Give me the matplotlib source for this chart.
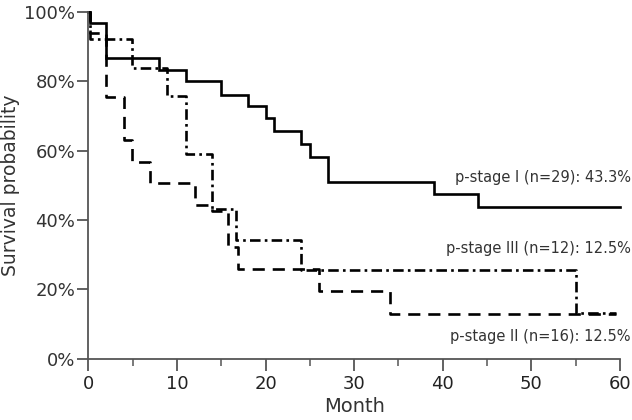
import matplotlib
matplotlib.use("Agg")
import matplotlib.pyplot as plt
from matplotlib.ticker import MultipleLocator, FuncFormatter

# Kaplan-Meier step data (month, survival %)
months_I = [0, 0.15, 2, 8, 11, 15, 18, 20, 21, 24, 25, 27, 39, 44, 60]
surv_I = [100, 96.8, 86.6, 83.4, 80.0, 76.2, 72.8, 69.4, 65.8, 61.9, 58.3, 51.0, 47.4, 43.7, 43.7]

months_II = [0, 0.15, 2, 4, 4.9, 7, 12, 14, 15.8, 16.9, 26, 34, 59.6]
surv_II = [100, 94.0, 75.5, 63.1, 56.8, 50.8, 44.4, 42.5, 32.1, 25.8, 19.4, 13.0, 13.0]

months_III = [0, 0.15, 4.9, 8.9, 11, 14, 16.7, 24, 55, 59.6]
surv_III = [100, 92.3, 83.8, 75.7, 59.1, 43.2, 34.2, 25.5, 13.1, 13.1]

labels = ["p-stage I (n=29): 43.3%", "p-stage III (n=12): 12.5%", "p-stage II (n=16): 12.5%"]
label_y = [52.3, 31.9, 6.3]

y_ticks = [0, 20, 40, 60, 80, 100]
x_ticks = [0, 10, 20, 30, 40, 50, 60]

fig = plt.figure(figsize=(6.32, 4.20), dpi=100)
ax = fig.add_axes([88.3 / 632, 1 - 358.7 / 420, (620 - 88.3) / 632, (358.7 - 12) / 420])

lw = 1.9
ax.step(months_I, surv_I, where="post", color="black", lw=lw, solid_joinstyle="miter", clip_on=False)
ax.step(months_II, surv_II, where="post", color="black", lw=lw, linestyle=(0, (4.6, 3.0)), clip_on=False)
ax.step(months_III, surv_III, where="post", color="black", lw=lw,
        linestyle=(0, (4.0, 1.6, 1.0, 1.6)), clip_on=False)

ax.set_xlim(0, 60)
ax.set_ylim(0, 100)
ax.set_xticks(x_ticks)
ax.xaxis.set_minor_locator(MultipleLocator(5))
ax.set_yticks(y_ticks)
ax.yaxis.set_major_formatter(FuncFormatter(lambda v, p: f"{int(v)}%"))

for s in ["top", "right"]:
    ax.spines[s].set_visible(False)
for s in ["left", "bottom"]:
    ax.spines[s].set_color("#555555")
    ax.spines[s].set_linewidth(1.3)

ax.tick_params(axis="y", which="major", direction="out", length=8, width=1.3, color="#555555",
               labelsize=13, labelcolor="#333333", pad=1.5)
ax.tick_params(axis="x", which="major", direction="out", length=8.5, width=1.3, color="#555555",
               labelsize=13, labelcolor="#222222", pad=3)
ax.tick_params(axis="x", which="minor", direction="out", length=5, width=1.1, color="#555555")

ax.set_xlabel("Month", fontsize=14, color="#333333")
ax.xaxis.set_label_coords(0.5, -0.11)
ax.set_ylabel("Survival probability", fontsize=13.5, color="#333333")
ax.yaxis.set_label_coords(-0.128, 0.5)

for txt, yv in zip(labels, label_y):
    ax.text(61.2, yv, txt, ha="right", va="center", fontsize=10.5, color="#333333", clip_on=False)

fig.savefig("out.png", dpi=100)
